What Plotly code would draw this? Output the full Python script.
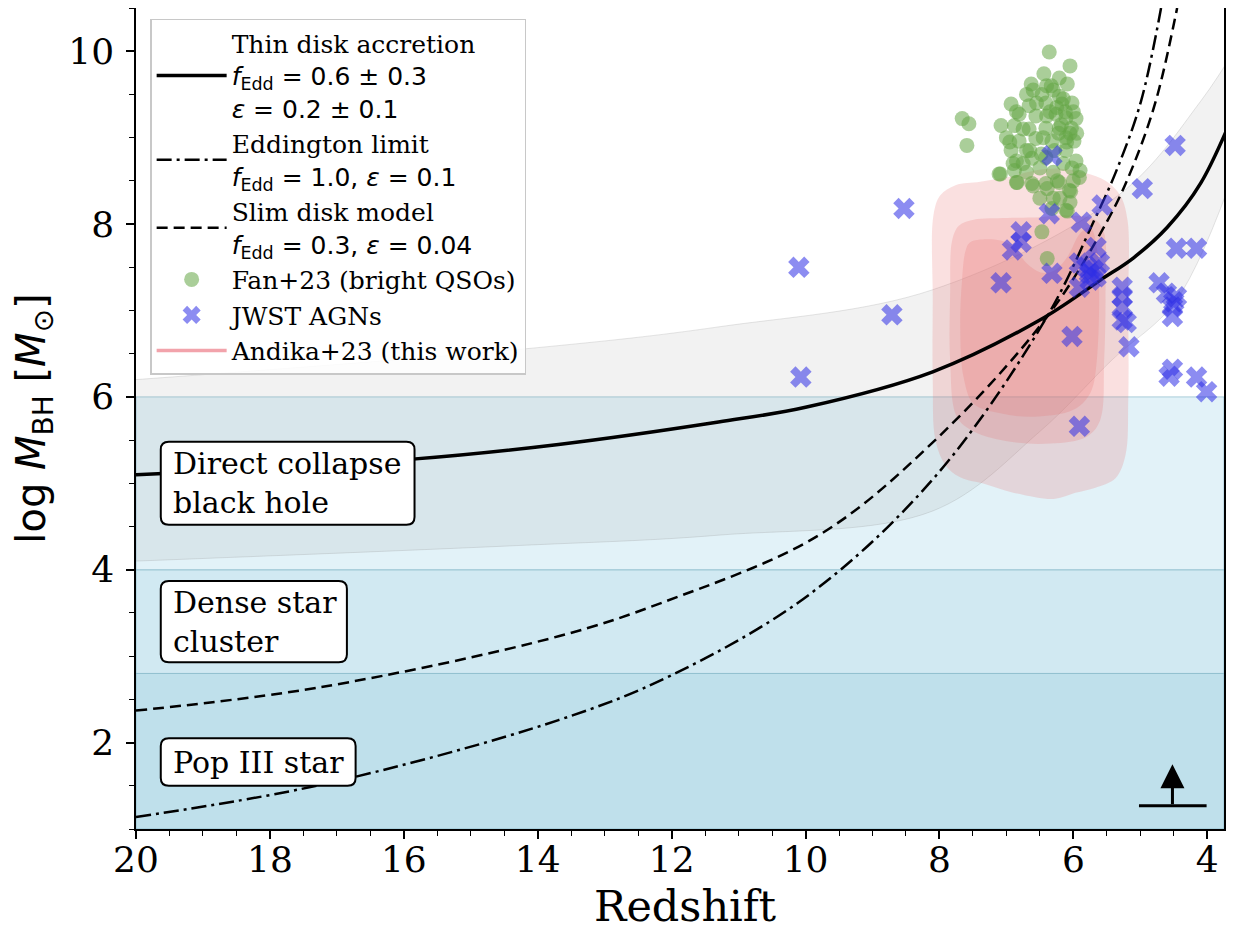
import plotly.graph_objects as go

# ---------------- data ----------------
# Growth tracks (redshift, log M_BH)
THIN_Z = [20, 15.87, 13.69, 11.3, 10.0, 8.1, 6.5, 5.6, 5.1, 4.6, 4.1, 3.54]
THIN_LOGM = [5.10, 5.28, 5.45, 5.71, 5.88, 6.29, 6.89, 7.35, 7.61, 7.96, 8.47, 9.40]

BAND_UP_Z = [20, 14.0, 11.3, 8.1, 5.3, 4.1, 3.54]
BAND_UP_LOGM = [6.2, 6.57, 6.81, 7.24, 8.35, 9.42, 10.08]
BAND_LO_Z = [20, 14.3, 11.3, 8.1, 6.5, 5.42, 4.46, 3.54]
BAND_LO_LOGM = [4.1, 4.28, 4.40, 4.68, 5.6, 6.43, 7.12, 8.73]

EDD_Z = [20, 17.25, 13.69, 12.0, 9.95, 8.05, 6.4, 5.69, 5.34, 4.99, 4.69]
EDD_LOGM = [1.14, 1.51, 2.26, 2.78, 3.71, 5.09, 6.92, 8.04, 8.65, 9.42, 10.5]

SLIM_Z = [20, 17.25, 13.69, 12.14, 9.80, 8.05, 6.4, 5.49, 5.12, 4.77, 4.45]
SLIM_LOGM = [2.37, 2.64, 3.23, 3.62, 4.40, 5.51, 6.92, 8.04, 8.65, 9.42, 10.5]

# Fan+23 bright quasars
FAN_Z = [6.36, 6.05, 6.44, 6.21, 6.63, 6.33, 6.09, 6.70, 6.47, 6.21, 6.93, 6.66,
         6.41, 6.17, 6.02, 6.81, 6.56, 6.26, 6.11, 5.96, 7.66, 7.56, 7.59, 7.08,
         6.88, 6.66, 6.41, 6.21, 6.03, 7.00, 6.81, 6.56, 6.32, 6.11, 5.99, 6.93,
         6.70, 6.48, 6.11, 6.85, 6.62, 6.41, 5.96, 7.11, 6.88, 6.70, 6.02, 6.85,
         6.62, 6.41, 6.21, 6.06, 5.91, 6.32, 6.11, 6.47, 7.09, 6.84, 6.60, 6.39,
         6.24, 6.04, 5.90, 6.09, 6.39, 6.25, 6.18, 6.28, 6.15, 6.05, 6.35,
         6.30, 6.12, 6.22, 6.40, 6.55, 6.75, 6.95, 6.50, 6.30, 6.15, 6.00, 6.65,
         6.45, 6.85, 6.20, 6.05, 6.60, 6.00, 6.40, 6.75, 6.30, 6.50, 6.90, 6.10,
         5.95]
FAN_LOGM = [9.99, 9.83, 9.74, 9.69, 9.62, 9.60, 9.62, 9.50, 9.50, 9.48, 9.39, 9.37,
            9.40, 9.39, 9.40, 9.27, 9.25, 9.27, 9.23, 9.22, 9.22, 9.16, 8.91, 9.14,
            9.14, 9.10, 9.11, 9.11, 9.11, 9.00, 8.96, 8.99, 8.96, 9.00, 8.96, 8.85,
            8.85, 8.81, 8.85, 8.73, 8.76, 8.77, 8.73, 8.58, 8.62, 8.60, 8.65, 8.48,
            8.47, 8.47, 8.48, 8.39, 8.54, 8.18, 8.16, 7.91, 8.58, 8.48, 8.44, 8.41,
            8.50, 8.38, 8.62, 8.15, 7.60, 9.35, 9.15, 8.85, 9.45, 9.05, 9.30,
            9.55, 9.30, 9.05, 9.25, 9.40, 9.10, 8.95, 8.65, 8.60, 8.70, 8.50, 8.85,
            9.00, 9.30, 8.30, 8.25, 9.55, 9.30, 9.60, 8.70, 8.30, 8.30, 8.70, 8.95,
            9.05]

# JWST AGNs
JWST_Z = [4.48, 4.97, 8.53, 6.32, 6.36, 5.57, 5.88, 6.78, 6.78, 6.91, 5.66, 5.61,
          5.91, 5.76, 5.66, 6.32, 5.91, 7.08, 4.46, 4.16, 5.27, 5.27, 5.27, 5.27,
          5.21, 5.17, 4.72, 4.61, 4.46, 4.52, 4.52, 6.02, 4.52, 4.57, 4.16, 4.01,
          5.91, 10.1, 8.71, 10.07, 5.70, 5.80, 5.75, 4.50]
JWST_LOGM = [8.91, 8.41, 8.18, 8.79, 8.12, 8.22, 8.02, 7.91, 7.79, 7.70, 7.73, 7.55,
             7.55, 7.43, 7.39, 7.43, 7.27, 7.32, 7.72, 7.72, 7.27, 7.16, 7.04, 6.89,
             6.86, 6.58, 7.32, 7.20, 7.16, 7.04, 6.93, 6.70, 6.32, 6.24, 6.23, 6.06,
             5.66, 7.50, 6.95, 6.23, 7.47, 7.50, 7.35, 7.10]

# Andika+23 density contours (outer -> inner)
CONT1_Z = [8.09, 7.99, 7.76, 7.39, 6.94, 6.57, 6.19, 5.82, 5.52, 5.30, 5.19, 5.18,
           5.18, 5.22, 5.37, 5.67, 5.97, 6.27, 6.57, 6.94, 7.31, 7.69, 7.91, 8.06,
           8.10, 8.10]
CONT1_LOGM = [8.10, 8.33, 8.45, 8.49, 8.55, 8.62, 8.64, 8.59, 8.50, 8.33, 8.04, 7.12,
              5.96, 5.33, 5.06, 4.95, 4.89, 4.82, 4.84, 4.90, 4.99, 5.07, 5.21, 5.50,
              6.19, 7.12]
CONT2_Z = [7.81, 7.71, 7.49, 6.99, 6.49, 6.09, 5.70, 5.55, 5.52, 5.54, 5.60, 5.80,
           6.34, 6.94, 7.49, 7.74, 7.84, 7.84]
CONT2_LOGM = [7.81, 7.98, 8.05, 8.07, 8.08, 8.10, 8.06, 7.92, 7.19, 6.42, 5.73, 5.54,
              5.46, 5.48, 5.60, 5.77, 6.42, 7.19]
CONT3_Z = [7.54, 7.09, 6.89, 6.69, 6.49, 6.29, 6.09, 5.90, 5.75, 5.65, 5.65, 5.75,
           6.00, 6.59, 7.09, 7.49, 7.64, 7.69, 7.66, 7.61]
CONT3_LOGM = [7.79, 7.81, 7.73, 7.54, 7.44, 7.46, 7.62, 7.89, 7.96, 7.73, 6.42, 6.04,
              5.85, 5.77, 5.81, 5.92, 6.23, 6.81, 7.38, 7.69]

# Seed regions
REGION_TEXT = ["Pop III star", "Dense star<br>cluster", "Direct collapse<br>black hole"]
REGION_LOW = [1.0, 2.8, 4.0]
REGION_HIGH = [2.8, 4.0, 6.0]
REGION_COLORS = ["#bfe0eb", "#d1e9f2", "#e2f2f8"]

# label boxes (redshift left/right, logM bottom/top)
BOX_Z0 = [19.63, 19.63, 19.63]
BOX_Z1 = [16.72, 16.85, 15.84]
BOX_M0 = [1.50, 2.93, 4.52]
BOX_M1 = [2.05, 3.87, 5.48]
LABEL_Z = [19.48, 19.48, 19.48]

# lower-limit marker (bottom right)
LIMIT_BAR_Z = [5.02, 4.01]
LIMIT_BAR_LOGM = [1.27, 1.27]
LIMIT_ARROW_Z = [4.52, 4.52]
LIMIT_ARROW_LOGM = [1.27, 1.75]

X_TICKS = [20, 18, 16, 14, 12, 10, 8, 6, 4]
Y_TICKS = [2, 4, 6, 8, 10]

SERIF = "DejaVu Serif"
SANS = "DejaVu Sans"


def sans(s):
    return '<span style="font-family:DejaVu Sans">' + s + '</span>'


def rounded_box(x0, x1, y0, y1, rx=0.12, ry=0.09):
    # x axis is reversed: x0 (left) > x1 (right)
    return (f"M {x0 - rx},{y0} L {x1 + rx},{y0} Q {x1},{y0} {x1},{y0 + ry} "
            f"L {x1},{y1 - ry} Q {x1},{y1} {x1 + rx},{y1} L {x0 - rx},{y1} "
            f"Q {x0},{y1} {x0},{y1 - ry} L {x0},{y0 + ry} Q {x0},{y0} {x0 - rx},{y0} Z")


fig = go.Figure()

# seed-mass regions
for lo, hi, col in zip(REGION_LOW, REGION_HIGH, REGION_COLORS):
    fig.add_shape(type="rect", xref="x domain", yref="y", x0=0, x1=1, y0=lo, y1=hi,
                  fillcolor=col, line=dict(color="rgba(110,170,190,0.55)", width=1),
                  layer="below")

# gray uncertainty band around thin disk
fig.add_trace(go.Scatter(x=BAND_UP_Z, y=BAND_UP_LOGM, mode="lines", line_shape="spline",
                         line=dict(color="rgba(150,150,150,0.25)", width=1),
                         showlegend=False, hoverinfo="skip"))
fig.add_trace(go.Scatter(x=BAND_LO_Z, y=BAND_LO_LOGM, mode="lines", line_shape="spline",
                         line=dict(color="rgba(150,150,150,0.25)", width=1),
                         fill="tonexty", fillcolor="rgba(128,128,128,0.10)",
                         showlegend=False, hoverinfo="skip"))

# Andika+23 contours
for cz, cm in [(CONT1_Z, CONT1_LOGM), (CONT2_Z, CONT2_LOGM), (CONT3_Z, CONT3_LOGM)]:
    fig.add_trace(go.Scatter(x=cz + cz[:1], y=cm + cm[:1], mode="lines", line_shape="spline",
                             line=dict(width=0, color="rgba(0,0,0,0)"), fill="toself",
                             fillcolor="rgba(232,110,110,0.21)", showlegend=False,
                             hoverinfo="skip"))

# growth tracks
fig.add_trace(go.Scatter(
    x=THIN_Z, y=THIN_LOGM, mode="lines", line_shape="spline",
    line=dict(color="black", width=3.5), legendgroup="a",
    name="Thin disk accretion<br>" + sans("<i>f</i><sub>Edd</sub> = 0.6 ± 0.3") + "<br>"
         + sans("<i>ε</i> = 0.2 ± 0.1")))
fig.add_trace(go.Scatter(
    x=EDD_Z, y=EDD_LOGM, mode="lines", line_shape="spline",
    line=dict(color="black", width=2.5, dash="15px,5px,3px,5px"), legendgroup="b",
    name="Eddington limit<br>" + sans("<i>f</i><sub>Edd</sub> = 1.0, <i>ε</i> = 0.1")))
fig.add_trace(go.Scatter(
    x=SLIM_Z, y=SLIM_LOGM, mode="lines", line_shape="spline",
    line=dict(color="black", width=2.5, dash="11px,6px"), legendgroup="c",
    name="Slim disk model<br>" + sans("<i>f</i><sub>Edd</sub> = 0.3, <i>ε</i> = 0.04")))

# observations
fig.add_trace(go.Scatter(
    x=FAN_Z, y=FAN_LOGM, mode="markers", legendgroup="d",
    marker=dict(symbol="circle", size=15, color="rgba(100,165,70,0.55)", line=dict(width=0)),
    name="Fan+23 (bright QSOs)"))
fig.add_trace(go.Scatter(
    x=JWST_Z, y=JWST_LOGM, mode="markers", legendgroup="e",
    marker=dict(symbol="x", size=19, color="rgba(45,45,230,0.55)", line=dict(width=0)),
    name="JWST AGNs"))
fig.add_trace(go.Scatter(
    x=[None], y=[None], mode="lines", legendgroup="f",
    line=dict(color="#f2a3ab", width=3.5), name="Andika+23 (this work)"))

# lower-limit marker
fig.add_trace(go.Scatter(x=LIMIT_BAR_Z, y=LIMIT_BAR_LOGM, mode="lines",
                         line=dict(color="black", width=3), showlegend=False,
                         hoverinfo="skip"))
fig.add_annotation(x=LIMIT_ARROW_Z[1], y=LIMIT_ARROW_LOGM[1], ax=LIMIT_ARROW_Z[0],
                   ay=LIMIT_ARROW_LOGM[0], xref="x", yref="y", axref="x", ayref="y",
                   text="", showarrow=True, arrowhead=2, arrowsize=1.6, arrowwidth=3,
                   arrowcolor="black")

# region labels in rounded boxes
for txt, z0, z1, m0, m1, lz in zip(REGION_TEXT, BOX_Z0, BOX_Z1, BOX_M0, BOX_M1, LABEL_Z):
    fig.add_shape(type="path", xref="x", yref="y", path=rounded_box(z0, z1, m0, m1),
                  fillcolor="white", line=dict(color="black", width=2), layer="above")
    fig.add_annotation(x=lz, y=(m0 + m1) / 2, xref="x", yref="y", text=txt,
                       showarrow=False, xanchor="left", yanchor="middle", align="left",
                       font=dict(family=SERIF, size=30, color="black"))

# x-axis title placed explicitly below the tick labels
fig.add_annotation(x=0.505, y=-0.094, xref="paper", yref="paper", text="Redshift",
                   showarrow=False, xanchor="center", yanchor="middle",
                   font=dict(family=SERIF, size=43, color="black"))

# The page body has an 8px default margin, so the figure is sized to fit the window
fig.update_layout(
    width=1231, height=923,
    margin=dict(l=128, r=15, t=0, b=102),
    paper_bgcolor="white", plot_bgcolor="white",
    font=dict(family=SERIF, color="black"),
    legend=dict(x=0.013, y=0.987, xanchor="left", yanchor="top",
                bgcolor="rgba(255,255,255,0.85)", bordercolor="#c8c8c8", borderwidth=1.5,
                font=dict(family=SERIF, size=25, color="black"),
                itemwidth=70, tracegroupgap=0, valign="middle"),
)
fig.update_xaxes(
    range=[20, 3.75], tickvals=X_TICKS, ticks="outside", ticklen=8, tickwidth=1.5,
    tickcolor="black", showline=True, linecolor="black", linewidth=1.5, mirror=True,
    showgrid=False, zeroline=False, automargin=False, ticklabelstandoff=-10,
    tickfont=dict(family=SERIF, size=36, color="black"),
    minor=dict(dtick=0.5, ticks="outside", ticklen=5, tickwidth=1.2, tickcolor="black",
               showgrid=False),
)
fig.update_yaxes(
    range=[1.0, 10.5], tickvals=Y_TICKS, ticks="outside", ticklen=8, tickwidth=1.5,
    tickcolor="black", showline=True, linecolor="black", linewidth=1.5, mirror=True,
    showgrid=False, zeroline=False, automargin=False, ticklabelstandoff=5,
    tickfont=dict(family=SERIF, size=36, color="black"),
    minor=dict(dtick=0.5, ticks="outside", ticklen=5, tickwidth=1.2, tickcolor="black",
               showgrid=False),
    title=dict(text="log <i>M</i><sub>BH</sub> [<i>M</i><sub>⊙</sub>]",
               font=dict(family=SANS, size=40, color="black"), standoff=13),
)

fig.write_html("out.html")
